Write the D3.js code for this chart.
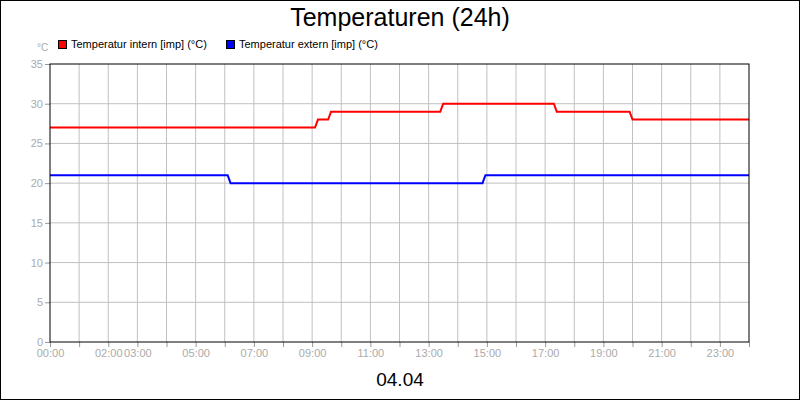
<!DOCTYPE html>
<html><head><meta charset="utf-8">
<script src="https://cdn.jsdelivr.net/npm/d3@7"></script>
<style>body{margin:0}svg{display:block;font-family:"Liberation Sans",Arial,sans-serif}</style>
</head><body><svg id="c" width="800" height="400"></svg>
<script>
const yTicks=[0,5,10,15,20,25,30,35];
const xLabelHours=[0,2,3,5,7,9,11,13,15,17,19,21,23];
const internT=[0,9.1,9.2,9.55,9.65,9.85,13.4,13.5,17.3,17.4,19.9,20,24];
const internV=[27,27,28,28,29,29,29,30,30,29,29,28,28];
const externT=[0,6.1,6.2,14.85,14.95,24];
const externV=[21,21,20,20,21,21];
const seriesNames=["Temperatur intern [imp] (°C)","Temperatur extern [imp] (°C)"];
const colors=["#ff0000","#0000ff"];

const svg=d3.select("#c");
svg.append("rect").attr("x",0.5).attr("y",0.5).attr("width",799).attr("height",399).attr("fill","#fff").attr("stroke","#000");
const L=50,R=749,T=64,B=342;
const x=d3.scaleLinear().domain([0,24]).range([L,R]);
const y=d3.scaleLinear().domain([0,35]).range([B,T]);
const g=svg.append("g");
d3.range(1,24).forEach(h=>g.append("line").attr("x1",x(h)).attr("x2",x(h)).attr("y1",T).attr("y2",B).attr("stroke","#c0c0c0"));
yTicks.slice(1,-1).forEach(v=>g.append("line").attr("x1",L).attr("x2",R).attr("y1",y(v)).attr("y2",y(v)).attr("stroke","#c0c0c0"));
const ya=svg.append("g").attr("transform",`translate(${L},0)`).call(d3.axisLeft(y).tickValues(yTicks).tickSize(5).tickSizeOuter(0));
ya.select(".domain").remove();
ya.selectAll("line").attr("stroke","#999");
ya.selectAll("text").attr("fill","#aaa").attr("font-size",11).attr("x",-7);
const xa=svg.append("g").attr("transform",`translate(0,${B})`).call(d3.axisBottom(x).tickValues(d3.range(0,25)).tickSize(5).tickSizeOuter(0).tickFormat(h=>xLabelHours.includes(h)?String(h).padStart(2,"0")+":00":""));
xa.select(".domain").remove();
xa.selectAll("line").attr("stroke","#999");
xa.selectAll("text").attr("fill","#aaa").attr("font-size",11).attr("y",7);
const line=d3.line().x(d=>x(d[0])).y(d=>y(d[1]));
[[internT,internV],[externT,externV]].forEach(([t,v],i)=>{
  svg.append("path").datum(t.map((tt,j)=>[tt,v[j]])).attr("d",line).attr("fill","none").attr("stroke",colors[i]).attr("stroke-width",2);
});
svg.append("rect").attr("x",L).attr("y",T).attr("width",R-L).attr("height",B-T).attr("fill","none").attr("stroke","#000");
svg.append("text").attr("x",400).attr("y",26).attr("text-anchor","middle").attr("font-size",25).text("Temperaturen (24h)");
svg.append("text").attr("x",37).attr("y",51).attr("fill","#aaa").attr("font-size",10).text("°C");
const lx=[58,226];
seriesNames.forEach((n,i)=>{
  svg.append("rect").attr("x",lx[i]+0.5).attr("y",40.5).attr("width",8).attr("height",8).attr("fill",colors[i]).attr("stroke","#000");
  svg.append("text").attr("x",lx[i]+13).attr("y",48).attr("font-size",11).text(n);
});
svg.append("text").attr("x",400).attr("y",386).attr("text-anchor","middle").attr("font-size",19).text("04.04");
</script></body></html>
